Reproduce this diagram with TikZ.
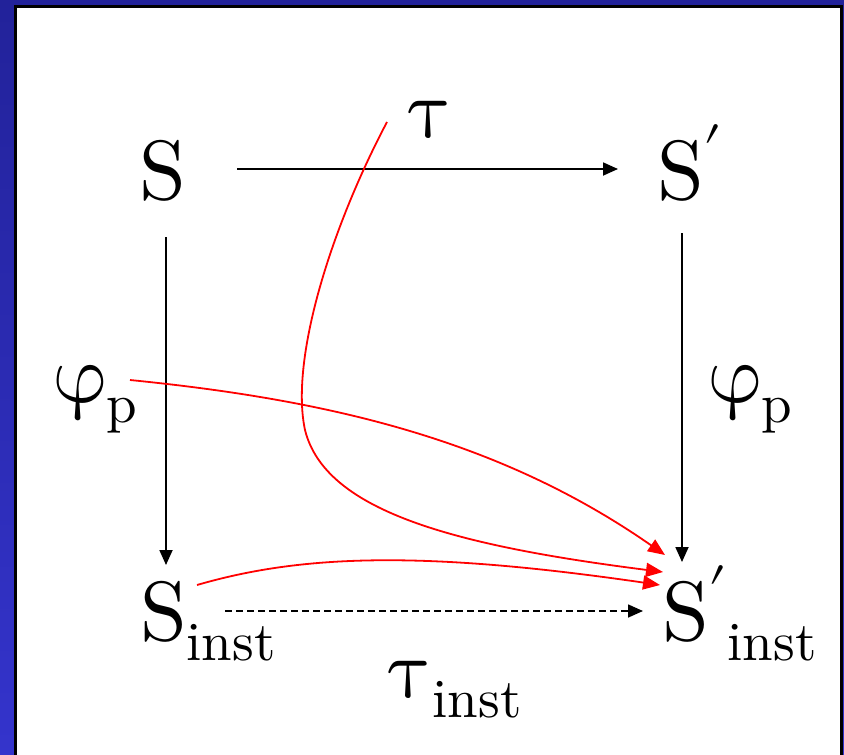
\documentclass[tikz,border=0pt]{standalone}
\usepackage{unicode-math}
\setmainfont{lmroman10-regular.otf}
\usetikzlibrary{arrows.meta}
\definecolor{bgtop}{HTML}{22229A}
\definecolor{bgbot}{HTML}{3434CC}
\definecolor{arrred}{HTML}{FF0000}
\newcommand\subtxt[1]{\raisebox{-20pt}{\fontsize{55}{55}\selectfont #1}}
\begin{document}
\begin{tikzpicture}[x=1pt,y=-1pt,
  lbl/.style={inner sep=0pt, outer sep=0pt, anchor=base west, font=\rmfamily\fontsize{84}{84}\selectfont},
  blk/.style={line width=1.8pt, -{Triangle[length=15pt,width=13pt]}},
  dsh/.style={line width=1.6pt, dash pattern=on 7pt off 4pt, -{Triangle[length=15pt,width=13pt]}},
  redarr/.style={draw=arrred, line width=1.8pt, -{Triangle[length=17pt,width=14pt]}}]
\useasboundingbox (0,0) rectangle (844,755);
\shade[top color=bgtop, bottom color=bgbot] (0,0) rectangle (844,755);
\fill[white] (16,7) rectangle (841,770);
\draw[line width=3pt] (15,770) -- (15,6) -- (841,6) -- (841,770);
% labels
\node[lbl] (S) at (139,199) {S};
\node[lbl] (Sp) at (657,199) {S$'$};
\node[lbl] (tau) at (408,137) {$\uptau$};
\node[lbl] (phil) at (53,402) {$\upvarphi$\subtxt{p}};
\node[lbl] (phir) at (708,402) {$\upvarphi$\subtxt{p}};
\node[lbl] (Si) at (140,640) {S\subtxt{inst}};
\node[lbl] (Spi) at (662,640) {S$'$\subtxt{inst}};
\node[lbl] (taui) at (388,697) {$\uptau$\subtxt{inst}};
% connector end points
\coordinate (a1) at (237,169); \coordinate (a2) at (618,169);
\coordinate (b1) at (166,237); \coordinate (b2) at (166,565);
\coordinate (c1) at (682,233); \coordinate (c2) at (682,562);
\coordinate (d1) at (225,611); \coordinate (d2) at (643,611);
\coordinate (r1s) at (387,122); \coordinate (r1m) at (305,430); \coordinate (r1e) at (663,572);
\coordinate (r2s) at (130,380); \coordinate (r2e) at (665,555);
\coordinate (r3s) at (197,585); \coordinate (r3e) at (660,585);
% black arrows
\draw[blk] (a1) -- (a2);
\draw[blk] (b1) -- (b2);
\draw[blk] (c1) -- (c2);
\draw[dsh] (d1) -- (d2);
% red arrows
\draw[redarr] (r1s) .. controls (330,230) and (290,360) .. (r1m) .. controls (325,510) and (450,545) .. (r1e);
\draw[redarr] (r2s) .. controls (330,400) and (500,440) .. (r2e);
\draw[redarr] (r3s) .. controls (300,555) and (420,550) .. (r3e);
\end{tikzpicture}
\end{document}
